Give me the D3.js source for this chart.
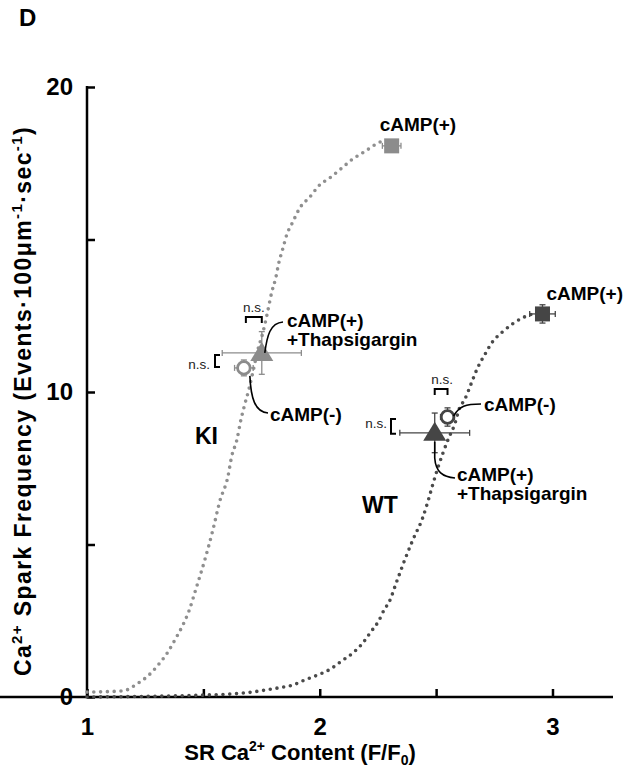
<!DOCTYPE html>
<html>
<head>
<meta charset="utf-8">
<script src="https://cdn.jsdelivr.net/npm/d3@7"></script>
<style>
  html, body { margin: 0; padding: 0; background: #fff; }
  svg { display: block; font-family: "Liberation Sans", Arial, sans-serif; }
</style>
</head>
<body>
<svg id="chart" width="631" height="772"></svg>
<script>
// ---------------- DATA ----------------
const xTickValues = [1, 1.5, 2, 2.5, 3];
const xTickLabels = ["1", "", "2", "", "3"];
const yTickValues = [0, 5, 10, 15, 20];
const yTickLabels = ["0", "", "10", "", "20"];

// fitted curves
const kiCurveX = [1.0, 1.155, 1.215, 1.266, 1.309, 1.348, 1.382, 1.412, 1.438, 1.468, 1.506, 1.541, 1.571, 1.605, 1.622, 1.644, 1.661, 1.678, 1.695, 1.708, 1.734, 1.755, 1.773, 1.794, 1.811, 1.824, 1.841, 1.858, 1.884, 1.914, 1.957, 2.0, 2.043, 2.09, 2.142, 2.197, 2.249, 2.283];
const kiCurveY = [0.16, 0.2, 0.43, 0.72, 1.08, 1.48, 1.93, 2.36, 2.82, 3.54, 4.49, 5.48, 6.43, 7.21, 7.9, 8.43, 9.08, 9.6, 10.07, 10.49, 11.38, 11.93, 12.52, 13.28, 13.74, 14.23, 14.69, 15.15, 15.57, 16.03, 16.39, 16.79, 17.02, 17.31, 17.64, 17.9, 18.16, 18.26];
const wtCurveX = [1.0, 1.532, 1.622, 1.708, 1.768, 1.824, 1.884, 1.936, 1.991, 2.047, 2.094, 2.142, 2.185, 2.219, 2.253, 2.279, 2.296, 2.33, 2.365, 2.4, 2.442, 2.464, 2.485, 2.506, 2.528, 2.554, 2.579, 2.601, 2.622, 2.652, 2.678, 2.708, 2.742, 2.785, 2.828, 2.871, 2.914];
const wtCurveY = [0.0, 0.07, 0.1, 0.16, 0.23, 0.3, 0.39, 0.56, 0.72, 0.92, 1.18, 1.44, 1.77, 2.13, 2.49, 2.89, 3.08, 3.77, 4.49, 5.15, 5.87, 6.39, 6.95, 7.48, 7.97, 8.49, 8.92, 9.48, 9.74, 10.3, 10.79, 11.21, 11.64, 11.97, 12.23, 12.43, 12.56];

// conditions: cAMP(-), cAMP(+)+Thapsigargin, cAMP(+)
const conditions = ["cAMP(-)", "cAMP(+)+Thapsigargin", "cAMP(+)"];
const kiX = [1.674, 1.751, 2.309];
const kiY = [10.79, 11.28, 18.07];
const kiXErr = [0.04, 0.17, 0.04];
const kiYErr = [0.26, 0.7, 0.2];
const wtX = [2.549, 2.494, 2.957];
const wtY = [9.18, 8.66, 12.56];
const wtXErr = [0.03, 0.15, 0.055];
const wtYErr = [0.3, 0.65, 0.3];

// ---------------- DRAW ----------------
const svg = d3.select("#chart");
const FONT = '"Liberation Sans", Arial, sans-serif';
const x = d3.scaleLinear().domain([1, 3.26]).range([87, 613]);
const y = d3.scaleLinear().domain([0, 20]).range([697, 87]);

const KI_COL = "#8c8c8c";
const WT_COL = "#454545";

// Title
svg.append("text").attr("x", 19).attr("y", 26).attr("font-size", 24)
  .attr("font-weight", "bold").text("D");

// Axes
const xAxis = svg.append("g").attr("transform", "translate(0,697)")
  .call(d3.axisBottom(x).tickValues(xTickValues).tickSizeInner(-8).tickSizeOuter(0)
    .tickPadding(21).tickFormat((d, i) => xTickLabels[i]));
const yAxis = svg.append("g").attr("transform", "translate(87,0)")
  .call(d3.axisLeft(y).tickValues(yTickValues).tickSizeInner(-8).tickSizeOuter(0)
    .tickPadding(14).tickFormat((d, i) => yTickLabels[i]));
[xAxis, yAxis].forEach(g => {
  g.attr("font-family", FONT).attr("font-size", 24).attr("font-weight", "bold");
  g.select(".domain").attr("stroke", "#000").attr("stroke-width", 2.5);
  g.selectAll(".tick line").attr("stroke", "#000").attr("stroke-width", 2.5);
  g.selectAll(".tick text").attr("fill", "#000");
});
yAxis.select(".domain").attr("d", "M0,698V86");
xAxis.select(".domain").attr("d", "M-1,0H613");

// Axis titles
const xt = svg.append("text").attr("x", 300).attr("y", 760).attr("text-anchor", "middle")
  .attr("font-size", 22).attr("font-weight", "bold");
xt.append("tspan").text("SR Ca");
xt.append("tspan").attr("font-size", 14).attr("dy", -9).text("2+");
xt.append("tspan").attr("dy", 9).text(" Content (F/F");
xt.append("tspan").attr("font-size", 14).attr("dy", 5).text("0");
xt.append("tspan").attr("dy", -5).text(")");

const yt = svg.append("text").attr("transform", "translate(31,401) rotate(-90)")
  .attr("text-anchor", "middle").attr("font-size", 23).attr("font-weight", "bold")
  .attr("letter-spacing", 1.4);
yt.append("tspan").text("Ca");
yt.append("tspan").attr("font-size", 15).attr("dy", -9).text("2+");
yt.append("tspan").attr("dy", 9).text(" Spark Frequency (Events\u00B7100\u03BCm");
yt.append("tspan").attr("font-size", 15).attr("dy", -9).text("-1");
yt.append("tspan").attr("dy", 9).text("\u00B7sec");
yt.append("tspan").attr("font-size", 15).attr("dy", -9).text("-1");
yt.append("tspan").attr("dy", 9).text(")");

// Curves
const line = d3.line().x(d => x(d[0])).y(d => y(d[1])).curve(d3.curveMonotoneX);
function drawCurve(xs, ys, col) {
  svg.append("path").datum(xs.map((v, i) => [v, ys[i]]))
    .attr("d", line).attr("fill", "none").attr("stroke", col)
    .attr("stroke-width", 3.6).attr("stroke-linecap", "round")
    .attr("stroke-dasharray", "0,6.8");
}
drawCurve(kiCurveX, kiCurveY, "#8f8f8f");
drawCurve(wtCurveX, wtCurveY, "#4a4a4a");

// Error bars + markers
function drawGroup(xs, ys, xe, ye, col) {
  const g = svg.append("g");
  xs.forEach((v, i) => {
    const cx = x(v), cy = y(ys[i]);
    const x0 = x(v - xe[i]), x1 = x(v + xe[i]);
    const y0 = y(ys[i] - ye[i]), y1 = y(ys[i] + ye[i]);
    g.append("line").attr("x1", x0).attr("x2", x1).attr("y1", cy).attr("y2", cy)
      .attr("stroke", col).attr("stroke-width", 1.3);
    g.append("line").attr("x1", cx).attr("x2", cx).attr("y1", y0).attr("y2", y1)
      .attr("stroke", col).attr("stroke-width", 1.3);
    [[x0, cy, "v"], [x1, cy, "v"], [cx, y0, "h"], [cx, y1, "h"]].forEach(c => {
      if (c[2] === "v") g.append("line").attr("x1", c[0]).attr("x2", c[0]).attr("y1", c[1] - 3).attr("y2", c[1] + 3).attr("stroke", col).attr("stroke-width", 1.3);
      else g.append("line").attr("x1", c[0] - 3).attr("x2", c[0] + 3).attr("y1", c[1]).attr("y2", c[1]).attr("stroke", col).attr("stroke-width", 1.3);
    });
  });
  // circle (cAMP-)
  g.append("circle").attr("cx", x(xs[0])).attr("cy", y(ys[0])).attr("r", 6.3)
    .attr("fill", "#fff").attr("stroke", col).attr("stroke-width", 2.8);
  // triangle (cAMP+ + Thapsigargin)
  const tx = x(xs[1]), ty = y(ys[1]);
  g.append("path").attr("d", `M${tx},${ty - 11}L${tx + 11.5},${ty + 8}L${tx - 11.5},${ty + 8}Z`)
    .attr("fill", col);
  // square (cAMP+)
  const sx = x(xs[2]), sy = y(ys[2]);
  g.append("rect").attr("x", sx - 7.5).attr("y", sy - 7.5).attr("width", 15).attr("height", 15)
    .attr("fill", col);
}
drawGroup(kiX, kiY, kiXErr, kiYErr, KI_COL);
drawGroup(wtX, wtY, wtXErr, wtYErr, WT_COL);

// Annotations
function label(px, py, txt, size) {
  return svg.append("text").attr("x", px).attr("y", py).attr("font-size", size || 19)
    .attr("font-weight", "bold").attr("fill", "#000").text(txt);
}
function ns(px, py, anchor) {
  svg.append("text").attr("x", px).attr("y", py).attr("font-size", 13.5)
    .attr("text-anchor", anchor).attr("fill", "#222").text("n.s.");
}
function bracketTop(xa, xb, yy) {
  svg.append("path").attr("d", `M${xa},${yy + 6}V${yy}H${xb}V${yy + 6}`)
    .attr("fill", "none").attr("stroke", "#000").attr("stroke-width", 2);
}
function bracketLeft(xx, ya, yb) {
  svg.append("path").attr("d", `M${xx + 5},${ya}H${xx}V${yb}H${xx + 5}`)
    .attr("fill", "none").attr("stroke", "#000").attr("stroke-width", 2);
}
function leader(d) {
  svg.append("path").attr("d", d).attr("fill", "none").attr("stroke", "#000").attr("stroke-width", 1.6);
}

// KI
{
  const cx = x(kiX[0]), cy = y(kiY[0]);
  const tx = x(kiX[1]), ty = y(kiY[1]);
  const sx = x(kiX[2]), sy = y(kiY[2]);
  bracketTop(cx + 2, tx, 317);
  ns((cx + tx) / 2 + 1, 312, "middle");
  bracketLeft(215, ty + 2, cy - 1);
  ns(210, 369, "end");
  leader(`M283,322C270,323 267,336 ${tx + 3},${ty}`);
  label(287, 327, "cAMP(+)");
  label(287, 346, "+Thapsigargin");
  leader(`M${cx + 6},${cy + 8}C${cx + 7},398 ${cx + 11},412 268,413`);
  label(270, 421, "cAMP(-)");
  label(195, 444, "KI", 23);
  label(sx - 12, sy - 15, "cAMP(+)");
}
// WT
{
  const cx = x(wtX[0]), cy = y(wtY[0]);
  const tx = x(wtX[1]), ty = y(wtY[1]);
  const sx = x(wtX[2]), sy = y(wtY[2]);
  bracketTop(tx, cx, 389);
  ns((cx + tx) / 2 + 1, 384, "middle");
  bracketLeft(391, cy + 2, ty + 1);
  ns(387, 428, "end");
  leader(`M${cx + 6},${cy - 1}C${cx + 12},${cy - 11} ${cx + 18},404 481,404`);
  label(484, 411, "cAMP(-)");
  leader(`M${tx},${ty + 9}L${tx},458C${tx + 1},472 ${tx + 8},477 455,478`);
  label(457, 481, "cAMP(+)");
  label(457, 500, "+Thapsigargin");
  label(362, 513, "WT", 23);
  label(sx + 4, sy - 14, "cAMP(+)");
}
</script>
</body>
</html>
